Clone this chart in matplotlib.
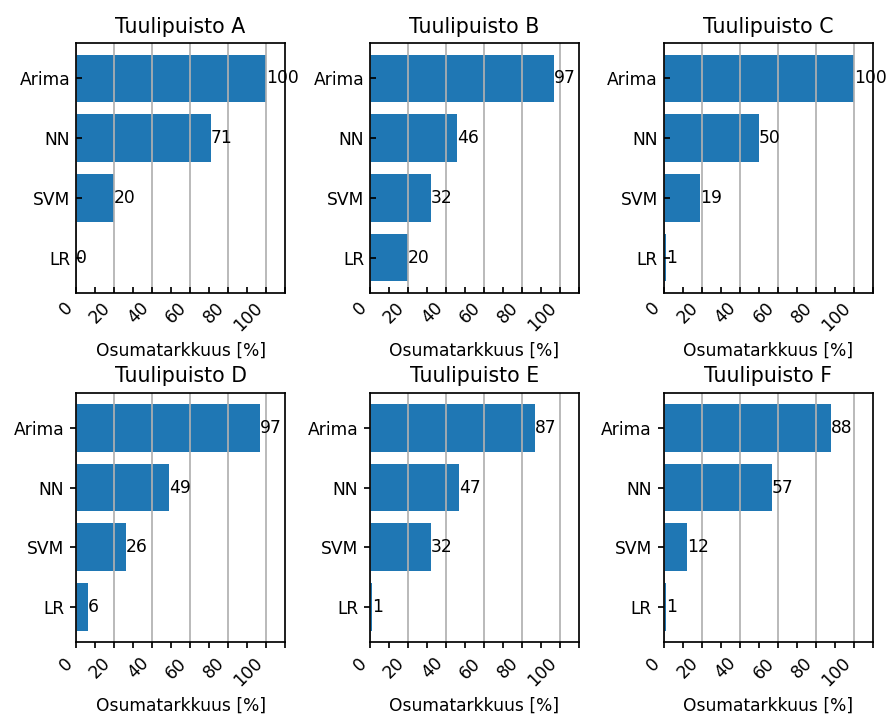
import matplotlib
matplotlib.use("Agg")
import matplotlib.pyplot as plt
from matplotlib.ticker import MultipleLocator

methods = ['LR', 'SVM', 'NN', 'Arima']
parks = ['Tuulipuisto A', 'Tuulipuisto B', 'Tuulipuisto C',
         'Tuulipuisto D', 'Tuulipuisto E', 'Tuulipuisto F']

# osumatarkkuus per menetelmä (LR, SVM, NN, Arima)
park_a = [0, 20, 71, 100]
park_b = [20, 32, 46, 97]
park_c = [1, 19, 50, 100]
park_d = [6, 26, 49, 97]
park_e = [1, 32, 47, 87]
park_f = [1, 12, 57, 88]

values = [park_a, park_b, park_c, park_d, park_e, park_f]

plt.rcParams['axes.linewidth'] = 1.0
plt.rcParams['grid.linewidth'] = 1.0
plt.rcParams['xtick.major.width'] = 1.0
plt.rcParams['xtick.minor.width'] = 1.0
plt.rcParams['ytick.major.width'] = 1.0

DPI = 123
fig, axes = plt.subplots(2, 3, figsize=(886 / DPI, 720 / DPI), dpi=DPI)
plt.subplots_adjust(left=0.086, right=0.985, bottom=0.108, top=0.94,
                    wspace=0.407, hspace=0.40)

for i, ax in enumerate(axes.flat):
    bars = ax.barh(methods, values[i], color='#1f77b4')
    ax.bar_label(bars)
    ax.set_title(parks[i])
    ax.set_xlim(0, 110)
    ax.xaxis.set_major_locator(MultipleLocator(20))
    ax.xaxis.set_minor_locator(MultipleLocator(10))
    ax.grid(axis='x', which='major')
    ax.set_xlabel('Osumatarkkuus [%]')
    plt.setp(ax.get_xticklabels(), rotation=45, ha='right')
    if i < 3:
        ax.tick_params(axis='both', which='both', direction='in', length=3.5)
    else:
        ax.tick_params(axis='both', which='both', direction='out', length=3.5)

fig.savefig('out.png', dpi=DPI)
